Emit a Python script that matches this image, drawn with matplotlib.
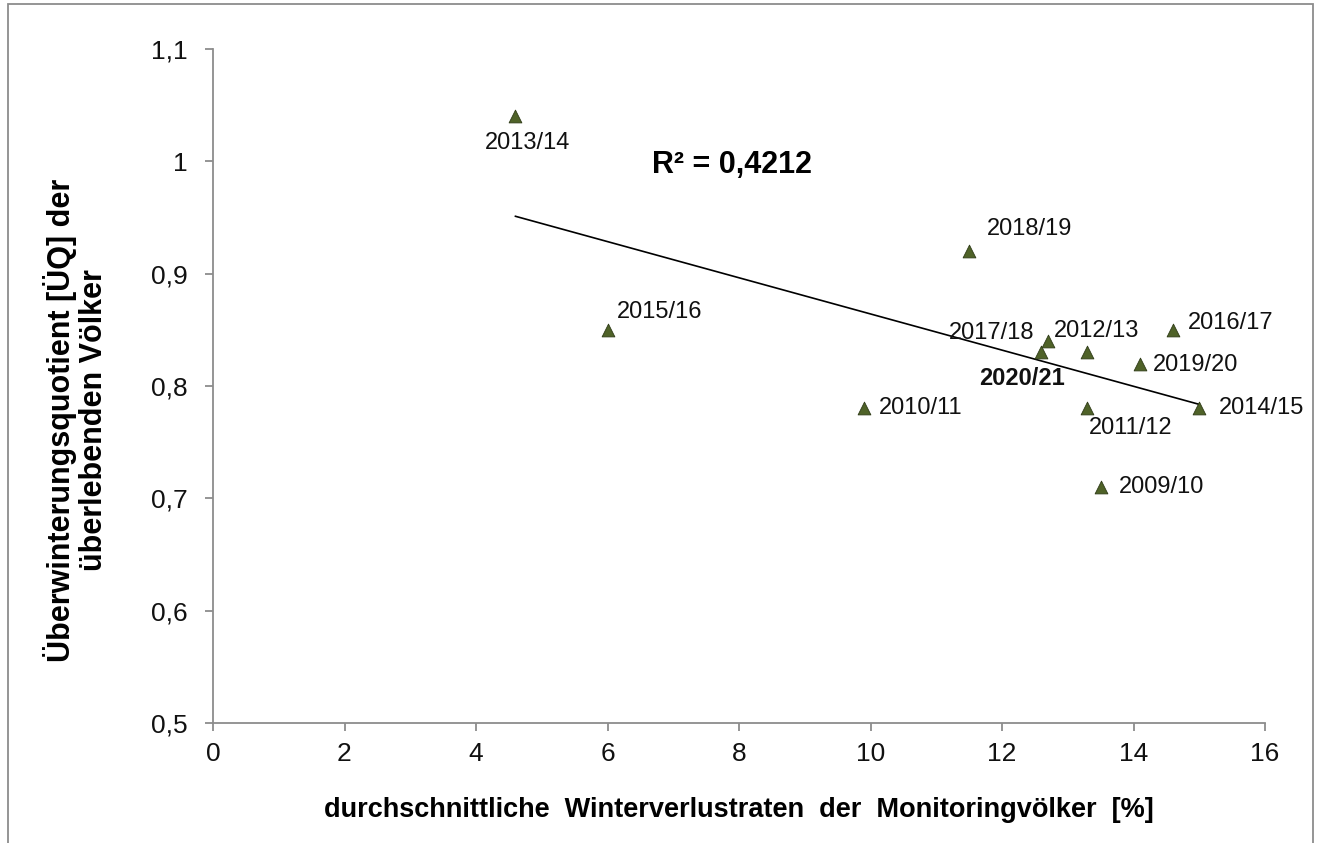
import numpy as np
import matplotlib.pyplot as plt
from matplotlib.patches import Rectangle

plt.rcParams['font.family'] = ['Liberation Sans', 'DejaVu Sans']

# data
jahre = ['2013/14', '2015/16', '2010/11', '2018/19', '2017/18', '2020/21',
         '2012/13', '2016/17', '2019/20', '2011/12', '2014/15', '2009/10']
verlust = [4.6, 6.0, 9.9, 11.5, 12.7, 12.6, 13.3, 14.6, 14.1, 13.3, 15.0, 13.5]
uq = [1.04, 0.85, 0.78, 0.92, 0.84, 0.83, 0.83, 0.85, 0.82, 0.78, 0.78, 0.71]

# label offsets in points (dx, dy), alignment
offsets = {
    '2013/14': (9, -19, 'center'),
    '2015/16': (7, 13, 'left'),
    '2010/11': (11, 0, 'left'),
    '2018/19': (13, 16, 'left'),
    '2017/18': (-10, 6, 'right'),
    '2020/21': (-14, -19, 'center'),
    '2012/13': (-24, 15, 'left'),
    '2016/17': (11, 5, 'left'),
    '2019/20': (9, -1, 'left'),
    '2011/12': (1, -14, 'left'),
    '2014/15': (14, 0, 'left'),
    '2009/10': (13, 0, 'left'),
}

W, H = 1317, 843
fig = plt.figure(figsize=(W / 100, H / 100), dpi=100)
ax = fig.add_axes([213 / W, 1 - 723 / H, 1052 / W, 674 / H])

# outer frame
fig.patches.append(Rectangle((8 / W, -0.01), 1305 / W, 1 - 4 / H + 0.01,
                             transform=fig.transFigure, fill=False,
                             edgecolor='#8c8c8c', linewidth=1.3))

# trend line
x = np.array(verlust)
y = np.array(uq)
k, d = np.polyfit(x, y, 1)
xs = np.array([x.min(), x.max()])
ax.plot(xs, k * xs + d, color='black', linewidth=1.2, zorder=2)

ax.scatter(x, y, marker='^', s=85, color='#4f6228', edgecolors='#2f3b18',
           linewidths=0.6, zorder=3)

for j, xi, yi in zip(jahre, verlust, uq):
    dx, dy, ha = offsets[j]
    bold = j == '2020/21'
    ax.annotate(j, (xi, yi), xytext=(dx, dy), textcoords='offset points',
                ha=ha, va='center', fontsize=17,
                fontweight='bold' if bold else 'normal', color='#111111')

fig.text(652 / W, 1 - 165 / H, 'R² = 0,4212', fontsize=22,
         fontweight='bold', va='center', ha='left')

ax.set_xlim(0, 16)
ax.set_ylim(0.5, 1.1)
ax.set_xticks(range(0, 17, 2))
ax.set_yticks([0.5, 0.6, 0.7, 0.8, 0.9, 1.0, 1.1])
ax.set_yticklabels(['0,5', '0,6', '0,7', '0,8', '0,9', '1', '1,1'])

for s in ['top', 'right']:
    ax.spines[s].set_visible(False)
for s in ['left', 'bottom']:
    ax.spines[s].set_color('#8c8c8c')
    ax.spines[s].set_linewidth(1.3)
ax.tick_params(direction='out', length=5.5, width=1.3, color='#8c8c8c',
               labelsize=19, labelcolor='#111111')
ax.tick_params(axis='y', pad=13)
ax.tick_params(axis='x', pad=8)

ax.set_xlabel('durchschnittliche  Winterverlustraten  der  Monitoringvölker  [%]',
              fontsize=19.5, fontweight='bold', va='top')
ax.xaxis.set_label_coords(0.5, (723 - 797) / 674)
ax.set_ylabel('Überwinterungsquotient [ÜQ] der\nüberlebenden Völker',
              fontsize=22, fontweight='bold', linespacing=1.05, va='center')
ax.yaxis.set_label_coords((76 - 213) / 1052, (723 - 420) / 674)

fig.savefig('out.png', dpi=100)
